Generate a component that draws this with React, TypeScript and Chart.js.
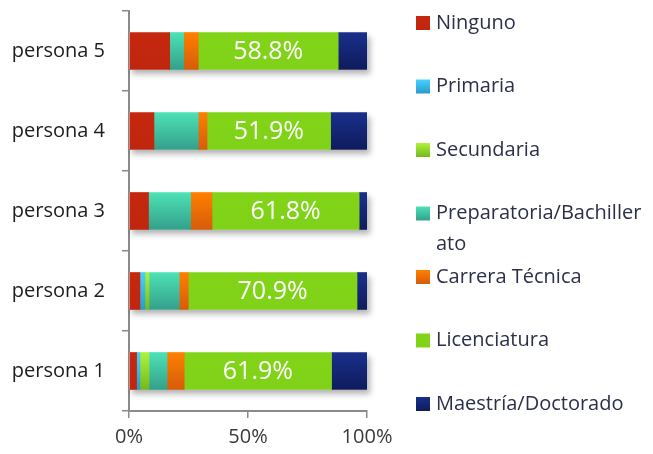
import React, { useEffect, useRef } from "react";
import { Chart, registerables } from "chart.js";

Chart.register(...registerables);

const categories = ["persona 5", "persona 4", "persona 3", "persona 2", "persona 1"];
const seriesNames = [
  "Ninguno",
  "Primaria",
  "Secundaria",
  "Preparatoria/Bachiller ato",
  "Carrera Técnica",
  "Licenciatura",
  "Maestría/Doctorado",
];
const ninguno = [17.1, 10.5, 8.2, 4.6, 3.2];
const primaria = [0, 0, 0, 2.1, 1.4];
const secundaria = [0, 0, 0, 1.7, 3.8];
const preparatoria = [5.9, 18.6, 17.7, 12.7, 7.6];
const carrera = [6.1, 3.7, 9.0, 3.8, 7.2];
const licenciatura = [58.8, 51.9, 61.8, 70.9, 61.9];
const maestria = [12.1, 15.3, 3.3, 4.2, 14.9];
const xTickValues = [0, 50, 100];

const seriesValues = [ninguno, primaria, secundaria, preparatoria, carrera, licenciatura, maestria];
const seriesColors: [string, string][] = [
  ["#c4280f", "#c0260e"],
  ["#46d2ff", "#2a9bcb"],
  ["#aef23e", "#76b81c"],
  ["#4ce2b6", "#34a08a"],
  ["#ff8000", "#d65c0a"],
  ["#82d419", "#80d218"],
  ["#1a2f8c", "#0e1c5c"],
];

const FONT = "'Open Sans', sans-serif";
const BAR_H = 37;

export default function App() {
  const ref = useRef<HTMLCanvasElement>(null);

  useEffect(() => {
    const canvas = ref.current!;
    const makeBg = (top: string, bottom: string) => (c: any) => {
      const chart = c.chart;
      const y = chart.scales && chart.scales.y;
      if (!y || c.dataIndex === undefined || c.type !== "data") return top;
      const center = y.getPixelForValue(c.dataIndex);
      if (!Number.isFinite(center)) return top;
      const g = chart.ctx.createLinearGradient(0, center - BAR_H / 2, 0, center + BAR_H / 2);
      g.addColorStop(0, top);
      g.addColorStop(1, bottom);
      return g;
    };

    const shadowPlugin = {
      id: "barShadow",
      beforeDatasetsDraw(chart: any) {
        const ctx = chart.ctx;
        const x = chart.scales.x;
        const y = chart.scales.y;
        ctx.save();
        ctx.shadowColor = "rgba(0,0,0,0.3)";
        ctx.shadowBlur = 6;
        ctx.shadowOffsetX = 3;
        ctx.shadowOffsetY = 4;
        ctx.fillStyle = "#ffffff";
        categories.forEach((_, i) => {
          const cy = y.getPixelForValue(i);
          const x0 = x.getPixelForValue(0);
          const x1 = x.getPixelForValue(100);
          ctx.fillRect(x0, cy - BAR_H / 2, x1 - x0, BAR_H);
        });
        ctx.restore();
      },
    };

    const labelPlugin = {
      id: "licLabels",
      afterDatasetsDraw(chart: any) {
        const ctx = chart.ctx;
        const meta = chart.getDatasetMeta(5);
        ctx.save();
        ctx.fillStyle = "#ffffff";
        ctx.font = `25px ${FONT}`;
        ctx.textAlign = "center";
        ctx.textBaseline = "middle";
        meta.data.forEach((el: any, i: number) => {
          const cx = (el.x + el.base) / 2;
          ctx.fillText(`${licenciatura[i].toFixed(1)}%`, cx, el.y + 1);
        });
        ctx.restore();
      },
    };

    const legendPlugin = {
      id: "sideLegend",
      afterDraw(chart: any) {
        const ctx = chart.ctx;
        ctx.save();
        ctx.font = `20px ${FONT}`;
        ctx.textBaseline = "middle";
        ctx.textAlign = "left";
        const boxX = 416;
        const textX = 436;
        const startY = 23;
        const step = 63.5;
        seriesNames.forEach((name, i) => {
          const cy = startY + i * step;
          const [top, bottom] = seriesColors[i];
          const g = ctx.createLinearGradient(0, cy - 7, 0, cy + 7);
          g.addColorStop(0, top);
          g.addColorStop(1, bottom);
          ctx.fillStyle = g;
          ctx.fillRect(boxX, cy - 7, 14, 14);
          ctx.fillStyle = "#2c2f4a";
          const lines = name.split(" ");
          if (name.startsWith("Preparatoria")) {
            ctx.fillText(lines[0], textX, cy);
            ctx.fillText(lines[1], textX, cy + 31);
          } else {
            ctx.fillText(name, textX, cy);
          }
        });
        ctx.restore();
      },
    };

    const chart = new Chart(canvas, {
      type: "bar",
      data: {
        labels: categories,
        datasets: seriesValues.map((vals, i) => ({
          label: seriesNames[i],
          data: vals,
          backgroundColor: makeBg(seriesColors[i][0], seriesColors[i][1]),
          borderWidth: 0,
          barThickness: BAR_H,
        })),
      },
      options: {
        indexAxis: "y",
        responsive: false,
        animation: false,
        devicePixelRatio: 1,
        layout: { padding: { left: 0, right: 286, top: 11, bottom: 0 } },
        plugins: {
          legend: { display: false },
          tooltip: { enabled: false },
        },
        scales: {
          x: {
            stacked: true,
            min: 0,
            max: 100,
            afterFit: (s: any) => {
              s.height = 43;
              s.paddingLeft = 0;
              s.paddingRight = 0;
            },
            afterBuildTicks: (s: any) => {
              s.ticks = xTickValues.map((v) => ({ value: v }));
            },
            ticks: {
              callback: (v: any) => `${v}%`,
              color: "#3a3a3a",
              font: { family: FONT, size: 20 },
              padding: 7,
              maxRotation: 0,
            },
            grid: {
              drawOnChartArea: false,
              drawTicks: true,
              tickLength: 7,
              color: "#8a8a8a",
              lineWidth: 1.5,
            },
            border: { display: true, color: "#8a8a8a", width: 2 },
          },
          y: {
            stacked: true,
            afterFit: (s: any) => {
              s.width = 129;
              s.paddingTop = 0;
              s.paddingBottom = 0;
            },
            ticks: {
              color: "#1e1e1e",
              font: { family: FONT, size: 20 },
              padding: 17,
            },
            grid: {
              offset: true,
              drawOnChartArea: false,
              drawTicks: true,
              tickLength: 7,
              color: "#8a8a8a",
              lineWidth: 1.5,
            },
            border: { display: true, color: "#8a8a8a", width: 2 },
          },
        },
      },
      plugins: [shadowPlugin, labelPlugin, legendPlugin],
    } as any);

    return () => chart.destroy();
  }, []);

  return (
    <div style={{ position: "fixed", left: 0, top: 0, width: 653, height: 454, background: "#ffffff" }}>
      <canvas ref={ref} width={653} height={454} style={{ display: "block", width: 653, height: 454 }} />
    </div>
  );
}
